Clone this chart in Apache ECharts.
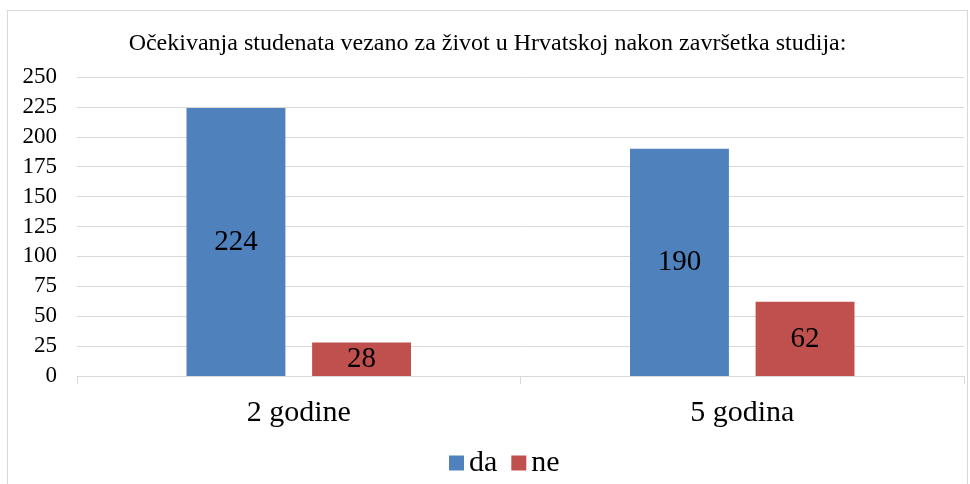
<!DOCTYPE html>
<html>
<head>
<meta charset="utf-8">
<script src="https://cdn.jsdelivr.net/npm/echarts@6/dist/echarts.min.js"></script>
<style>
  html,body{margin:0;padding:0;background:#fff;overflow:hidden;}
  #main{position:absolute;left:7px;top:10px;width:961px;height:480px;border:1px solid #d9d9d9;box-sizing:border-box;}
</style>
</head>
<body>
<div id="main"></div>
<script>
const categories = ['2 godine', '5 godina']
const daValues = [224, 190]
const neValues = [28, 62]

const font = '"Liberation Serif", "DejaVu Serif", serif'
const chart = echarts.init(document.getElementById('main'))

let option = {
  animation: false,
  textStyle: { fontFamily: font },
  title: {
    text: 'Očekivanja studenata vezano za život u Hrvatskoj nakon završetka studija:',
    left: 'center',
    top: 16,
    textStyle: { fontFamily: font, fontSize: 24, fontWeight: 'normal', color: '#000' }
  },
  legend: {
    bottom: 6,
    left: 436,
    icon: 'rect',
    itemWidth: 15,
    itemHeight: 15,
    itemGap: 14,
    textStyle: { fontFamily: font, fontSize: 30, color: '#000' },
    data: ['da', 'ne']
  },
  grid: { left: 69, right: 3, top: 66, bottom: 113 },
  xAxis: {
    type: 'category',
    data: categories,
    axisLine: { lineStyle: { color: '#d9d9d9' } },
    axisTick: { show: true, length: 8, lineStyle: { color: '#d9d9d9' } },
    axisLabel: { fontFamily: font, fontSize: 30, color: '#000', margin: 22 }
  },
  yAxis: {
    type: 'value',
    min: 0,
    max: 250,
    interval: 25,
    axisLine: { show: false },
    axisTick: { show: false },
    splitLine: { lineStyle: { color: '#d9d9d9' } },
    axisLabel: { fontFamily: font, fontSize: 23, color: '#000', margin: 20 }
  },
  series: [
    {
      name: 'da',
      type: 'bar',
      data: daValues,
      barWidth: '22.3%',
      barGap: '27%',
      itemStyle: { color: '#4F81BD' },
      label: { show: true, position: 'inside', fontFamily: font, fontSize: 29, color: '#000' }
    },
    {
      name: 'ne',
      type: 'bar',
      data: neValues,
      barWidth: '22.3%',
      itemStyle: { color: '#C0504D' },
      label: { show: true, position: 'inside', fontFamily: font, fontSize: 29, color: '#000' }
    }
  ]
}
chart.setOption(option)
</script>
</body>
</html>
